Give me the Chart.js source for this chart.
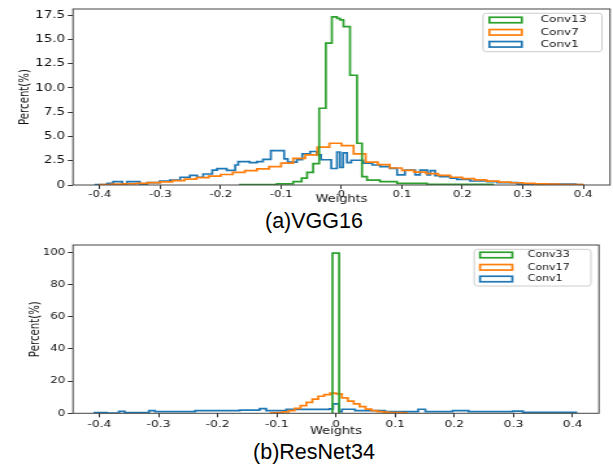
<!DOCTYPE html>
<html>
<head>
<meta charset="utf-8">
<script src="https://cdn.jsdelivr.net/npm/chart.js@4.4.0/dist/chart.umd.min.js"></script>
<style>
  body { margin: 0; background: #fff; width: 613px; height: 468px; overflow: hidden; position: relative; }
  canvas { position: absolute; left: 0; }
  .cap { position: absolute; left: 164px; width: 300px; text-align: center;
         font-family: "Liberation Sans", Arial, sans-serif; font-size: 21.5px; line-height: 21px; color: #000; }
</style>
</head>
<body>
<canvas id="vgg" width="472" height="208" style="top:0px;width:613px;height:208px"></canvas>
<div class="cap" style="top:211px">(a)VGG16</div>
<canvas id="res" width="472" height="204" style="top:236px;width:613px;height:204px"></canvas>
<div class="cap" style="top:442px">(b)ResNet34</div>
<script>
// tick labels
const xTickValues = [-0.4, -0.3, -0.2, -0.1, 0, 0.1, 0.2, 0.3, 0.4];
const xTickLabels = ['-0.4', '-0.3', '-0.2', '-0.1', '0', '0.1', '0.2', '0.3', '0.4'];
const vggYTickValues = [0, 2.5, 5, 7.5, 10, 12.5, 15, 17.5];
const vggYTickLabels = ['0', '2.5', '5.0', '7.5', '10.0', '12.5', '15.0', '17.5'];
const resYTickValues = [0, 20, 40, 60, 80, 100];
const resYTickLabels = ['0', '20', '40', '60', '80', '100'];

// (a) VGG16 - bin edges (weight) and percent per bin
const vggConv13Edges = [-0.168, -0.107, -0.080, -0.066, -0.057, -0.047, -0.037, -0.026, -0.016, -0.0075,
  -0.0025, 0.0033, 0.0141, 0.0257, 0.0339, 0.0422, 0.0637, 0.0919, 0.1416, 0.2508];
const vggConv13Pct = [0.03, 0.12, 0.35, 0.7, 1.3, 2.2, 7.9, 14.6, 17.3, 17.15,
  17.0, 16.3, 11.3, 4.3, 0.86, 0.5, 0.34, 0.17, 0.06];

const vggConv7Edges = [-0.40, -0.38, -0.36, -0.34, -0.32, -0.30, -0.28, -0.26, -0.24, -0.22,
  -0.20, -0.18, -0.16, -0.14, -0.12, -0.10, -0.08, -0.06, -0.04, -0.02,
  0.00, 0.02, 0.04, 0.06, 0.08, 0.10, 0.12, 0.14, 0.16, 0.18,
  0.20, 0.22, 0.24, 0.26, 0.28, 0.30, 0.32, 0.34, 0.36, 0.38, 0.40];
const vggConv7Pct = [0.05, 0.08, 0.12, 0.16, 0.24, 0.33, 0.45, 0.6, 0.75, 0.92,
  1.08, 1.3, 1.48, 1.65, 1.9, 2.25, 2.75, 3.1, 3.9, 4.3,
  4.05, 3.2, 2.35, 2.1, 1.75, 1.5, 1.33, 1.18, 1.0, 0.8,
  0.65, 0.52, 0.4, 0.3, 0.23, 0.16, 0.12, 0.08, 0.05, 0.04];

const vggConv1Edges = [-0.407, -0.388, -0.378, -0.363, -0.355, -0.334, -0.322, -0.301, -0.284, -0.267,
  -0.251, -0.239, -0.229, -0.214, -0.206, -0.190, -0.176, -0.171, -0.152, -0.140,
  -0.130, -0.117, -0.095, -0.089, -0.074, -0.065, -0.052, -0.041, -0.034, -0.017,
  -0.0075, -0.0025, 0.0025, 0.009, 0.016, 0.036, 0.051, 0.064, 0.080, 0.092,
  0.105, 0.122, 0.130, 0.142, 0.147, 0.155, 0.163, 0.180, 0.191, 0.213,
  0.241, 0.258, 0.291, 0.309, 0.387, 0.397];
const vggConv1Pct = [0.05, 0.17, 0.34, 0.1, 0.34, 0.1, 0.24, 0.4, 0.5, 0.8,
  1.0, 0.8, 1.13, 1.54, 1.68, 1.5, 2.06, 2.4, 2.3, 2.4,
  2.64, 3.53, 2.68, 2.35, 2.6, 3.2, 3.45, 3.1, 2.6, 1.7,
  3.4, 1.8, 3.3, 2.3, 2.55, 2.25, 2.06, 1.89, 1.72, 1.05,
  1.54, 1.05, 1.54, 1.05, 1.47, 0.96, 0.86, 0.7, 0.58, 0.41,
  0.34, 0.24, 0.1, 0.1, 0.05];

// (b) ResNet34
const resConv33Edges = [-0.006, 0.0053];
const resConv33Pct = [99.4];

const resConv17Edges = [-0.11, -0.10, -0.09, -0.08, -0.07, -0.06, -0.05, -0.04, -0.03, -0.02,
  -0.01, 0.00, 0.01, 0.02, 0.03, 0.04, 0.05, 0.06, 0.07, 0.08,
  0.09, 0.10, 0.11, 0.12];
const resConv17Pct = [0.3, 0.5, 0.9, 1.7, 3.0, 4.8, 6.8, 8.8, 10.6, 11.6,
  12.5, 12.0, 9.6, 7.6, 5.9, 4.2, 2.6, 1.6, 1.05, 0.7,
  0.5, 0.4, 0.25];

const resConv1Edges = [-0.408, -0.387, -0.367, -0.357, -0.316, -0.306, -0.238, -0.163, -0.129, -0.118,
  -0.084, -0.011, -0.005, 0.005, 0.010, 0.032, 0.083, 0.139, 0.151, 0.197,
  0.224, 0.299, 0.316, 0.406];
const resConv1Pct = [0.5, 0.1, 1.2, 0.5, 1.6, 1.1, 1.6, 2.0, 2.9, 1.6,
  2.4, 2.8, 5.8, 1.0, 2.5, 1.6, 1.0, 2.5, 1.0, 1.6,
  1.0, 1.4, 0.6];

const BLUE = '#1f77b4', ORANGE = '#ff7f0e', GREEN = '#2ca02c';
const FONT = 'DejaVu Sans';

// outline of a step histogram
function stepPoints(edges, pct) {
  const pts = [{x: edges[0], y: 0}];
  pct.forEach((p, i) => pts.push({x: edges[i], y: p}));
  pts.push({x: edges[pct.length], y: 0});
  return pts;
}

function histSet(label, edges, pct, color) {
  return {
    label: label,
    data: stepPoints(edges, pct),
    borderColor: color,
    backgroundColor: 'transparent',
    borderWidth: 1.7,
    pointRadius: 0,
    stepped: true,
    fill: false
  };
}

const frameBox = {
  id: 'frameBox',
  afterDatasetsDraw(chart) {
    const {ctx, chartArea: {left, top, width, height}} = chart;
    ctx.save();
    ctx.strokeStyle = '#444';
    ctx.lineWidth = 1;
    ctx.strokeRect(left, top, width, height);
    ctx.restore();
  }
};

const boxLegend = {
  id: 'boxLegend',
  afterDraw(chart, args, opts) {
    const ctx = chart.ctx;
    const f = opts.frame;
    ctx.save();
    ctx.fillStyle = 'rgba(255,255,255,0.8)';
    ctx.strokeStyle = '#cccccc';
    ctx.lineWidth = 1;
    ctx.beginPath();
    ctx.roundRect(f[0], f[1], f[2], f[3], 2.5);
    ctx.fill();
    ctx.stroke();
    ctx.font = opts.fontSize + 'px "' + FONT + '"';
    ctx.textBaseline = 'middle';
    chart.data.datasets.forEach((ds, i) => {
      const y = opts.rows[i];
      ctx.strokeStyle = ds.borderColor;
      ctx.lineWidth = 1.7;
      ctx.strokeRect(opts.patchX, y - opts.patchH / 2, opts.patchW, opts.patchH);
      ctx.fillStyle = '#111';
      ctx.fillText(ds.label, opts.textX, y);
    });
    ctx.restore();
  }
};

function makeChart(id, datasets, c) {
  return new Chart(document.getElementById(id), {
    type: 'line',
    data: { datasets: datasets },
    options: {
      responsive: false,
      devicePixelRatio: 1,
      animation: false,
      layout: { padding: { top: 9, right: c.padRight, left: 0, bottom: 0 } },
      scales: {
        x: {
          type: 'linear',
          min: -0.4445,
          max: 0.4445,
          afterFit: s => { s.height = c.xHeight; },
          afterBuildTicks: s => { s.ticks = xTickValues.map(v => ({value: v})); },
          ticks: {
            callback: (v, i) => xTickLabels[i],
            font: { family: FONT, size: c.xTickSize },
            color: '#111',
            padding: c.xTickPad,
            maxRotation: 0,
            autoSkip: false
          },
          grid: { drawOnChartArea: false, tickLength: 4, color: '#333' },
          border: { display: false },
          title: {
            display: true,
            text: 'Weights',
            font: { family: FONT, size: 10 },
            color: '#111',
            padding: { top: 0, bottom: c.xTitlePad }
          }
        },
        y: {
          min: 0,
          max: c.yMax,
          afterFit: s => { s.width = 56.2; },
          afterBuildTicks: s => { s.ticks = c.yTicks.map(v => ({value: v})); },
          ticks: {
            callback: (v, i) => c.yLabels[i],
            font: { family: FONT, size: c.yTickSize },
            color: '#111',
            padding: 2,
            autoSkip: false
          },
          grid: { drawOnChartArea: false, tickLength: 4, color: '#333' },
          border: { display: false },
          title: {
            display: true,
            text: 'Percent(%)',
            font: { family: FONT, size: 10.2 },
            color: '#111',
            padding: { top: c.yTitlePad, bottom: 0 }
          }
        }
      },
      plugins: {
        legend: { display: false },
        tooltip: { enabled: false },
        boxLegend: c.legend
      }
    },
    plugins: [frameBox, boxLegend]
  });
}

makeChart('vgg', [
  histSet('Conv13', vggConv13Edges, vggConv13Pct, GREEN),
  histSet('Conv7', vggConv7Edges, vggConv7Pct, ORANGE),
  histSet('Conv1', vggConv1Edges, vggConv1Pct, BLUE)
], {
  padRight: 2.3, xHeight: 23, xTickSize: 9, xTickPad: 0, xTitlePad: 2.5,
  yMax: 18.12, yTicks: vggYTickValues, yLabels: vggYTickLabels, yTickSize: 10.4, yTitlePad: 12.8,
  legend: { frame: [371.9, 13.3, 91.6, 38.4], rows: [20, 32.3, 44.3], patchX: 376.8, patchW: 25, patchH: 5.5,
            textX: 416.3, fontSize: 9.3 }
});

makeChart('res', [
  histSet('Conv33', resConv33Edges, resConv33Pct, GREEN),
  histSet('Conv17', resConv17Edges, resConv17Pct, ORANGE),
  histSet('Conv1', resConv1Edges, resConv1Pct, BLUE)
], {
  padRight: 10.8, xHeight: 26.7, xTickSize: 9.5, xTickPad: 2, xTitlePad: 3,
  yMax: 104.5, yTicks: resYTickValues, yLabels: resYTickLabels, yTickSize: 9, yTitlePad: 20.8,
  legend: { frame: [365.2, 13.3, 89.8, 36.7], rows: [19, 31.3, 43], patchX: 369.6, patchW: 24.9, patchH: 5.5,
            textX: 406.3, fontSize: 8.5 }
});
</script>
</body>
</html>
